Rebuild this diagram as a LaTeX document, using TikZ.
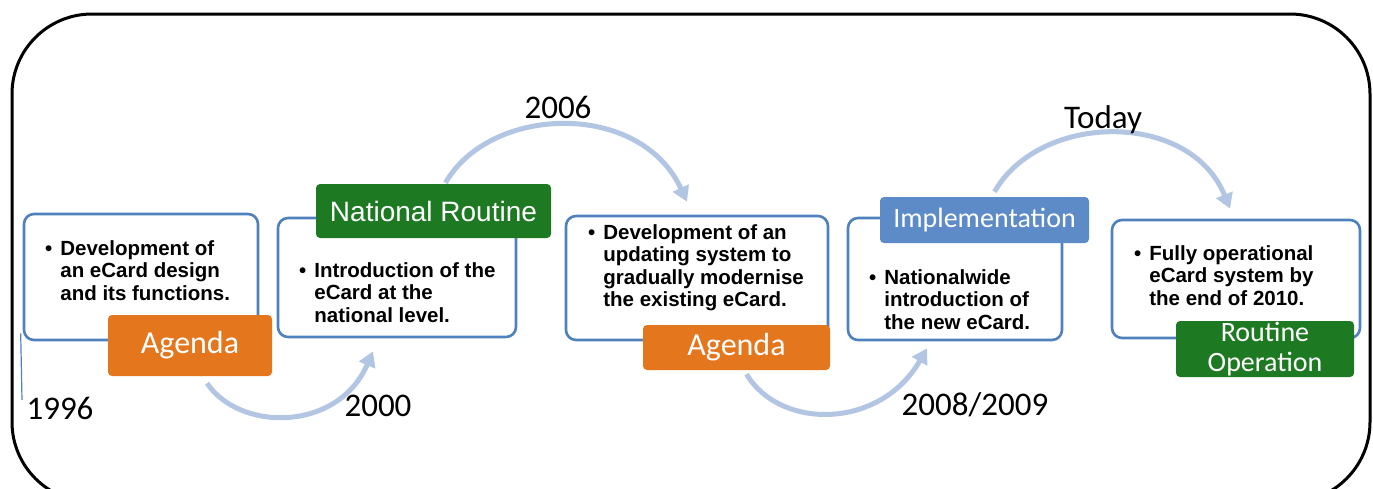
\documentclass[tikz,border=0pt]{standalone}
\usepackage{fontspec}
\setmainfont{Liberation Sans}
\newfontfamily\yearfont{Carlito}
\usetikzlibrary{arrows.meta,calc}

\definecolor{boxblue}{RGB}{79,129,189}
\definecolor{arcblue}{RGB}{178,197,226}
\definecolor{tagorange}{RGB}{228,118,30}
\definecolor{taggreen}{RGB}{30,122,34}
\definecolor{tagblue}{RGB}{92,139,200}

\tikzset{
  stage/.style={draw=boxblue, line width=2.6pt, rounded corners=10pt, fill=white, inner sep=0pt},
  tag/.style={rounded corners=4pt, inner sep=0pt, text=white, align=center,
              font=\yearfont\fontsize{28}{30}\selectfont},
  bigtag/.style={tag, font=\yearfont\fontsize{32}{34}\selectfont},
  year/.style={font=\yearfont\fontsize{33}{35}\selectfont, inner sep=0pt},
  bullets/.style={anchor=base west, inner sep=0pt, align=left,
                  font=\bfseries\fontsize{20.5}{22.5}\selectfont},
  flow/.style={draw=arcblue, line width=5pt, -{Triangle[length=15pt,width=17pt]}},
}

\newcommand{\pointlist}[1]{\begin{tabular}[t]{@{}l@{\hspace{8pt}}l@{}}#1\end{tabular}}

\begin{document}
\begin{tikzpicture}[x=1pt,y=-1pt]
  \useasboundingbox (0,0) rectangle (1373,488);

  % outer frame, partly running off the page
  \begin{scope}
    \clip (0,0) rectangle (1373,488);
    \draw[line width=3pt, rounded corners=80pt] (12,14) rectangle (1370,502);
  \end{scope}

  % stage boxes
  \node[stage, minimum width=234pt, minimum height=126pt] (box1) at (141,277) {};
  \node[stage, minimum width=238pt, minimum height=119pt] (box2) at (397,277.5) {};
  \node[stage, minimum width=262pt, minimum height=124pt] (box3) at (697,278) {};
  \node[stage, minimum width=214pt, minimum height=122pt] (box4) at (955,279) {};
  \node[stage, minimum width=248pt, minimum height=118pt] (box5) at (1236,279) {};

  % thin guide under the first box
  \coordinate (guideend) at (22,400);
  \draw[boxblue, line width=1.2pt] ($(box1.south west)+(-2,-8)$) -- (guideend);

  % box texts
  \node[bullets] (t1) at (45,255) {\pointlist{• & Development of\\ & an eCard design\\ & and its functions.}};
  \node[bullets] (t2) at (299,277) {\pointlist{• & Introduction of the\\ & eCard at the\\ & national level.}};
  \node[bullets] (t3) at (588,239) {\pointlist{• & Development of an\\ & updating system to\\ & gradually modernise\\ & the existing eCard.}};
  \node[bullets] (t4) at (869,284) {\pointlist{• & Nationalwide\\ & introduction of\\ & the new eCard.}};
  \node[bullets] (t5) at (1134,260) {\pointlist{• & Fully operational\\ & eCard system by\\ & the end of 2010.}};

  % phase tags
  \node[bigtag, fill=tagorange, minimum width=164pt, minimum height=61pt] (agendaA) at (190,345.5) {Agenda};
  \node[tag, fill=taggreen, minimum width=235pt, minimum height=54pt,
        font=\fontsize{28}{30}\selectfont] (natl) at (433.5,211) {National Routine};
  \node[bigtag, fill=tagorange, minimum width=187pt, minimum height=45pt] (agendaB) at (736.5,347.5) {Agenda};
  \node[tag, fill=tagblue, minimum width=209pt, minimum height=46pt] (impl) at (984.5,220) {Implementation};
  \node[tag, fill=taggreen, minimum width=178pt, minimum height=56pt] (routine) at (1265,349) {Routine\\Operation};

  % transitions between stages
  \draw[flow] ($(agendaA.south)+(17,7)$) .. controls (240,432) and (338,432) .. ($(box2.south)+(-24,13)$);
  \draw[flow] ($(natl.north)+(12,-1)$) .. controls (490,105) and (640,100) .. ($(box3.north)+(-10,-13)$);
  \draw[flow] ($(agendaB.south)+(10,4)$) .. controls (780,430) and (880,430) .. ($(box4.south)+(-28,7)$);
  \draw[flow] ($(impl.north)+(10,-5)$) .. controls (1040,112) and (1190,110) .. ($(box5.north)+(-6,-10)$);

  % years
  \node[year] (y1996) at (60,408) {1996};
  \node[year] (y2000) at (378,406) {2000};
  \node[year] (y2006) at (558,107) {2006};
  \node[year] (y2008) at (975,405) {2008/2009};
  \node[year] (ytoday) at (1103,120) {Today};
\end{tikzpicture}
\end{document}
